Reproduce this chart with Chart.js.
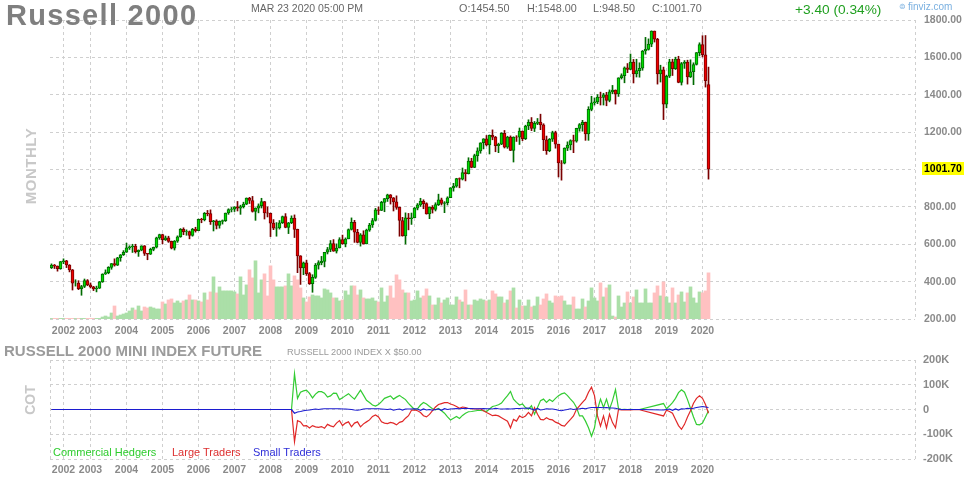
<!DOCTYPE html>
<html>
<head>
<meta charset="utf-8">
<title>Russell 2000</title>
<script src="https://cdn.jsdelivr.net/npm/chart.js@4.4.1/dist/chart.umd.min.js"></script>
<style>
  body { margin: 0; background: #fff; }
  #wrap { position: relative; width: 964px; height: 480px; overflow: hidden; font-family: "Liberation Sans", Arial, sans-serif; }
  canvas { position: absolute; left: 0; }
  .t { position: absolute; white-space: nowrap; line-height: 1; }
  .rot { position: absolute; white-space: nowrap; line-height: 1; font-weight: bold; color: #c8c8c8; transform: translate(-50%, -50%) rotate(-90deg); }
</style>
</head>
<body>
<div id="wrap">
  <canvas id="priceChart" width="964" height="340" style="top:0"></canvas>
  <canvas id="cotChart" width="964" height="140" style="top:340px"></canvas>

  <div class="t" style="left:6px;top:1px;font-size:29px;font-weight:bold;letter-spacing:1.3px;color:#7f7f7f">Russell 2000</div>
  <div class="t" style="left:251px;top:3px;font-size:10.5px;color:#666">MAR 23 2020 05:00 PM</div>
  <div class="t" style="left:459px;top:3px;font-size:10.8px;color:#666">O:1454.50</div>
  <div class="t" style="left:527px;top:3px;font-size:10.8px;color:#666">H:1548.00</div>
  <div class="t" style="left:593px;top:3px;font-size:10.8px;color:#666">L:948.50</div>
  <div class="t" style="left:652px;top:3px;font-size:10.8px;color:#666">C:1001.70</div>
  <div class="t" style="left:795px;top:3px;font-size:13.7px;color:#1f9f1f">+3.40 (0.34%)</div>
  <div class="t" style="left:899px;top:3px;font-size:8px;color:#7ab0e0">⊜</div>
  <div class="t" style="left:908px;top:2px;font-size:10px;color:#7ab0e0">finviz.com</div>
  <div class="rot" style="left:30px;top:166px;font-size:15px;letter-spacing:0.5px">MONTHLY</div>

  <div class="t" style="left:4px;top:343px;font-size:15px;font-weight:bold;color:#9b9b9b">RUSSELL 2000 MINI INDEX FUTURE</div>
  <div class="t" style="left:287px;top:348px;font-size:9.2px;color:#999">RUSSELL 2000 INDEX X $50.00</div>
  <div class="rot" style="left:30px;top:400px;font-size:14px">COT</div>
  <div class="t" style="left:53px;top:447px;font-size:11px;color:#2ecc2e">Commercial Hedgers</div>
  <div class="t" style="left:172px;top:447px;font-size:11px;color:#dd3030">Large Traders</div>
  <div class="t" style="left:253px;top:447px;font-size:11px;color:#2f2fd8">Small Traders</div>
</div>

<script>
// === Data ===
// monthly candles, Dec 2001 (index 0) to Mar 2020 (index 219)
const opens = [475,
  489,483,469,507,511,489,463,392,392,362,374,406,
  383,372,361,365,399,441,448,476,497,488,528,544,
  557,581,586,590,560,568,592,551,547,573,584,634,
  652,624,634,615,579,617,640,680,667,668,647,680,
  673,733,731,765,764,721,725,701,722,726,767,786,
  788,800,793,801,815,847,834,776,793,806,828,768,
  766,713,686,688,715,748,690,715,740,680,538,473,
  500,443,389,423,488,502,508,557,572,604,563,580,
  625,602,628,679,717,664,610,651,602,676,703,727,
  784,781,824,844,865,848,827,797,727,644,741,737,
  741,793,811,830,817,762,799,787,812,838,819,822,
  849,902,911,952,948,984,978,1045,1011,1074,1100,1143,
  1164,1131,1183,1173,1127,1135,1193,1120,1174,1102,1174,1173,
  1205,1165,1233,1253,1220,1247,1254,1239,1159,1101,1162,1198,
  1136,1035,1034,1114,1131,1155,1152,1220,1240,1252,1191,1322,
  1357,1362,1387,1386,1400,1370,1415,1425,1405,1491,1502,1544,
  1536,1575,1512,1529,1542,1634,1643,1671,1741,1697,1512,1533,
  1349,1499,1576,1540,1591,1466,1567,1575,1495,1523,1562,1625,
  1668,1614,1454.5];

const highs = [495,
  492,484,508,522,514,491,465,410,405,380,414,411,
  393,375,376,401,442,463,480,497,522,530,545,566,
  606,592,600,600,570,592,593,551,579,585,638,654,
  654,644,643,617,620,645,684,688,677,671,685,691,
  735,739,770,781,784,728,731,725,730,767,790,797,
  801,829,809,825,848,851,856,795,816,846,829,800,
  767,732,716,727,751,764,717,752,757,681,539,505,
  515,449,437,497,512,535,557,583,620,625,602,635,
  649,634,682,741,728,680,657,672,681,712,738,792,
  800,830,845,868,866,850,859,799,744,768,765,767,
  797,818,846,838,822,799,807,822,868,847,828,854,
  903,926,953,955,1008,999,1063,1060,1082,1116,1143,1165,
  1182,1185,1212,1177,1141,1197,1209,1178,1180,1175,1181,1222,
  1206,1237,1266,1278,1257,1273,1296,1245,1179,1166,1205,1205,
  1136,1048,1116,1148,1159,1184,1221,1246,1263,1254,1336,1392,
  1383,1401,1414,1408,1413,1426,1450,1426,1491,1512,1549,1567,
  1618,1589,1590,1571,1637,1707,1699,1742,1741,1702,1558,1548,
  1504,1590,1590,1601,1606,1573,1583,1585,1587,1571,1626,1678,
  1716,1717,1548];

const lows = [470,
  470,456,466,496,475,452,355,376,357,327,368,378,
  366,352,345,363,396,438,442,466,483,486,509,540,
  556,572,556,553,535,565,540,517,545,565,580,626,
  602,620,610,575,569,610,637,651,648,629,643,665,
  672,715,725,752,706,671,682,686,708,722,760,773,
  775,778,760,794,812,818,772,728,768,794,735,746,
  641,678,643,681,711,688,657,710,636,448,385,437,
  433,385,343,417,467,490,479,548,560,562,553,580,
  600,586,629,676,610,607,590,601,602,669,690,724,
  759,780,774,829,815,778,787,643,643,601,677,706,
  746,784,802,790,761,737,767,778,807,810,769,810,
  849,884,905,902,944,939,976,1009,1010,1044,1087,1110,
  1126,1083,1159,1095,1090,1133,1115,1113,1101,1040,1150,1134,
  1154,1160,1213,1208,1203,1240,1213,1101,1081,1095,1150,1114,
  960,943,1030,1101,1105,1090,1146,1205,1205,1156,1156,1314,
  1345,1352,1345,1345,1341,1362,1405,1350,1391,1484,1464,1518,
  1534,1463,1495,1494,1531,1617,1639,1657,1682,1457,1468,1267,
  1330,1492,1503,1535,1464,1452,1541,1457,1492,1454,1559,1608,
  1602,1441,948.5];

const closes = [489,
  483,469,507,511,489,463,392,392,362,374,406,383,
  372,361,365,399,441,448,476,497,488,528,544,557,
  581,586,590,560,568,592,551,547,573,584,634,652,
  624,634,615,579,617,640,680,667,668,647,680,673,
  733,731,765,764,721,725,701,722,726,767,786,788,
  800,793,801,815,847,834,776,793,806,828,768,766,
  713,686,688,715,748,690,715,740,680,538,473,500,
  443,389,423,488,502,508,557,572,604,563,580,625,
  602,628,679,717,664,610,651,602,676,703,727,784,
  781,824,844,865,848,827,797,727,644,741,737,741,
  793,811,830,817,762,799,787,812,838,819,822,849,
  902,911,952,948,984,978,1045,1011,1074,1100,1143,1164,
  1131,1183,1173,1127,1135,1193,1120,1174,1102,1174,1173,1205,
  1165,1233,1253,1220,1247,1254,1239,1159,1101,1162,1198,1136,
  1035,1034,1114,1131,1155,1152,1220,1240,1252,1191,1322,1357,
  1362,1387,1386,1400,1370,1415,1425,1405,1491,1502,1544,1536,
  1575,1512,1529,1542,1634,1643,1671,1741,1697,1512,1533,1349,
  1499,1576,1540,1591,1466,1567,1575,1495,1523,1562,1625,1668,
  1614,1476,1001.7];

// relative volume, same months
const volume = [0.6,0.6,0.6,0.6,0.6,0.6,0.6,0.6,0.6,0.6,0.6,0.6,0.6,0.6,0.6,0.6,0.6,
  2,3,2,6,13,3,4,5,6,8,11,9,13,8,12,11,12,11,10,10,
  17,15,19,20,16,18,16,18,19,24,19,19,
  18,17,26,19,27,42,26,32,28,28,28,28,
  27,25,42,24,34,49,41,58,26,39,45,23,
  53,39,32,32,32,33,45,33,43,39,31,21,
  17,22,24,23,23,21,30,29,26,21,21,18,
  19,28,24,33,33,24,29,21,20,20,21,18,
  17,31,17,23,33,21,44,39,29,26,26,18,
  19,28,21,23,30,23,14,14,21,16,19,21,
  14,14,22,19,17,29,14,14,19,18,20,19,
  18,19,28,25,22,22,16,19,28,31,11,19,
  13,13,19,12,13,22,14,20,25,18,16,23,
  22,23,18,14,14,22,10,10,20,12,18,31,
  21,18,36,22,31,34,3,2,23,12,16,27,
  16,22,29,16,16,30,16,16,26,33,23,37,
  22,16,31,16,24,27,17,26,32,21,16,27,
  26,28,46];

const yearTicks = [4, 13, 25, 37, 49, 61, 73, 85, 97, 109, 121, 133, 145, 157, 169, 181, 193, 205, 217];
const yearLabels = ["2002", "2003", "2004", "2005", "2006", "2007", "2008", "2009", "2010", "2011",
  "2012", "2013", "2014", "2015", "2016", "2017", "2018", "2019", "2020"];

// COT net positions in thousands of contracts, monthly from Aug 2008 (index 80)
const cotStart = 80;
const cotBefore = 0; // flat before the report starts
const commercial = [0,145,45,70,75,78,65,47,62,72,72,66,
  50,55,66,65,40,47,56,64,52,42,60,78,
  58,37,28,18,14,20,32,45,50,55,42,50,
  57,48,40,25,12,0,3,18,28,22,12,3,
  -1,4,-5,-15,-30,-42,-35,-28,-36,-24,-15,-9,
  -8,-6,-4,-4,-5,-8,2,12,15,19,26,42,
  56,73,42,29,18,22,8,1,15,-19,8,36,
  42,29,40,32,45,56,63,67,56,42,29,8,
  -26,-26,-47,-74,-108,-74,0,42,8,42,1,36,
  80,4,0,1,0,1,0,0,0,null,null,null,
  null,null,null,null,24,3,15,28,45,68,80,70,
  40,5,-30,-60,-62,-55,-30,-5];
const large = [0,-130,-45,-50,-66,-65,-75,-65,-70,-72,-69,-76,
  -60,-66,-70,-55,-45,-65,-55,-50,-70,-55,-50,-70,
  -58,-50,-42,-28,-22,-30,-50,-55,-57,-52,-55,-62,
  -52,-48,-35,-25,-3,-2,-5,-12,-25,-30,-20,-5,
  10,20,24,28,28,22,18,12,5,10,8,4,
  3,2,2,3,-5,-12,-18,-25,-23,-26,-33,-40,
  -47,-74,-40,-47,-26,-33,-26,-12,-26,8,-19,-40,
  -42,-33,-40,-42,-51,-56,-64,-67,-53,-40,-26,1,
  15,29,42,70,90,56,-26,-67,-26,-74,-19,-53,
  -74,0,-2,-2,-1,-2,-1,-1,-1,null,null,null,
  null,null,null,null,-26,-3,-8,-15,-40,-65,-80,-60,
  -30,-5,25,45,55,45,20,-15];
const small = [0,-15,-10,-8,-5,-3,-2,0,2,0,2,3,
  3,3,3,3,3,2,2,1,0,-2,-3,-1,
  2,3,3,3,3,3,2,1,0,2,-3,0,
  2,-2,2,2,2,3,2,-3,2,-2,0,-3,
  0,2,-3,3,0,2,3,4,3,4,5,4,
  4,3,3,3,4,3,3,2,5,3,2,2,
  3,2,3,4,4,5,5,6,2,-2,4,-2,
  0,3,2,2,0,-3,-5,-2,0,3,0,2,
  3,5,3,6,8,8,8,8,7,8,6,6,
  5,2,0,0,0,0,0,0,0,null,null,null,
  null,null,null,null,-2,0,2,-3,2,-2,3,2,
  5,3,5,8,10,12,10,8];

// === Styles ===
const GRID = "#cfcfcf";
const TICK = "#8a8a8a";
const FONT = "'Liberation Sans', Arial, sans-serif";
const X_MIN = -0.5;
const X_MAX = 287.8333; // empty months to the right of the last candle

const months = closes.map((_, i) => i);
const up = closes.map((c, i) => c >= opens[i]);

function yearAxis(withLeftEdge, pad) {
  return {
    type: "linear",
    min: X_MIN,
    max: X_MAX,
    offset: false,
    afterBuildTicks: (ax) => {
      const vals = (withLeftEdge ? [X_MIN] : []).concat(yearTicks, [X_MAX]);
      ax.ticks = vals.map((v) => ({ value: v }));
    },
    afterFit: (ax) => { ax.height = 21; },
    ticks: {
      autoSkip: false,
      maxRotation: 0,
      padding: pad,
      color: TICK,
      font: { family: FONT, size: 10.5, weight: "bold" },
      callback: (v) => {
        const k = yearTicks.indexOf(v);
        return k < 0 ? "" : yearLabels[k];
      },
    },
    grid: { color: GRID, drawTicks: false, offset: false },
    border: { display: false, dash: [3, 3] },
  };
}

// === Last price tag ===
const lastPriceTag = {
  id: "lastPriceTag",
  afterDraw(chart) {
    const last = closes[closes.length - 1];
    const y = chart.scales.y.getPixelForValue(last);
    const x = chart.chartArea.right;
    const ctx = chart.ctx;
    ctx.save();
    ctx.fillStyle = "#ffff00";
    ctx.fillRect(x + 7, Math.round(y) - 7, 42, 13);
    ctx.fillStyle = "#000";
    ctx.font = "bold 10.5px " + FONT;
    ctx.textBaseline = "middle";
    ctx.fillText(last.toFixed(2), x + 9, y);
    ctx.restore();
  },
};

// === Price chart ===
new Chart(document.getElementById("priceChart"), {
  type: "bar",
  data: {
    datasets: [
      {
        label: "body",
        data: months.map((i) => ({ x: i, y: [opens[i], closes[i]] })),
        backgroundColor: up.map((u) => (u ? "#00dc00" : "#ee0000")),
        borderColor: up.map((u) => (u ? "#006a00" : "#7a0000")),
        borderWidth: 1,
        borderSkipped: false,
        barThickness: 3,
        grouped: false,
        order: 0,
        yAxisID: "y",
      },
      {
        label: "wick",
        data: months.map((i) => ({ x: i, y: [lows[i], highs[i]] })),
        backgroundColor: up.map((u) => (u ? "#006a00" : "#7a0000")),
        barThickness: 1,
        grouped: false,
        order: 1,
        yAxisID: "y",
      },
      {
        label: "volume",
        data: months.map((i) => ({ x: i, y: volume[i] })),
        backgroundColor: up.map((u) => (u ? "#abdfa8" : "#ffc1c1")),
        barThickness: 3,
        grouped: false,
        order: 2,
        yAxisID: "vol",
      },
    ],
  },
  options: {
    responsive: false,
    animation: false,
    layout: { padding: { left: 50, top: 20 } },
    plugins: { legend: { display: false }, tooltip: { enabled: false } },
    scales: {
      x: yearAxis(false, 6),
      y: {
        position: "right",
        min: 200,
        max: 1800,
        afterFit: (ax) => { ax.width = 49; },
        ticks: {
          stepSize: 200,
          padding: 9,
          color: TICK,
          font: { family: FONT, size: 10.5, weight: "bold" },
          callback: (v) => (v === 1000 ? "" : v.toFixed(2)),
        },
        grid: { color: GRID, drawTicks: false },
        border: { display: false, dash: [3, 3] },
      },
      vol: { display: false, min: 0, max: 298 },
    },
  },
  plugins: [lastPriceTag],
});

// === COT chart ===
function cotPoints(arr) {
  return [{ x: 0, y: cotBefore }].concat(arr.map((v, k) => ({ x: cotStart + k, y: v })));
}

new Chart(document.getElementById("cotChart"), {
  type: "line",
  data: {
    datasets: [
      { label: "Small Traders", data: cotPoints(small), borderColor: "#1c1cd0", order: 0 },
      { label: "Large Traders", data: cotPoints(large), borderColor: "#e02828", order: 1 },
      { label: "Commercial Hedgers", data: cotPoints(commercial), borderColor: "#33cc33", order: 2 },
    ],
  },
  options: {
    responsive: false,
    animation: false,
    spanGaps: true,
    layout: { padding: { left: 50, top: 20 } },
    elements: { point: { radius: 0 }, line: { borderWidth: 1.2, tension: 0 } },
    plugins: { legend: { display: false }, tooltip: { enabled: false } },
    scales: {
      x: yearAxis(true, 5),
      y: {
        position: "right",
        min: -200,
        max: 200,
        afterFit: (ax) => { ax.width = 49; },
        ticks: {
          stepSize: 100,
          padding: 8,
          color: TICK,
          font: { family: FONT, size: 11, weight: "bold" },
          callback: (v) => (v === 0 ? "0" : v + "K"),
        },
        grid: { color: GRID, drawTicks: false },
        border: { display: false, dash: [3, 3] },
      },
    },
  },
});
</script>
</body>
</html>
